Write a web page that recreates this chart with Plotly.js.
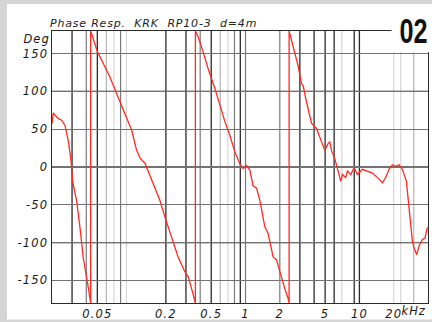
<!DOCTYPE html>
<html>
<head>
<meta charset="utf-8">
<script src="https://cdn.plot.ly/plotly-3.0.1.min.js"></script>
<style>
  html, body { margin: 0; padding: 0; background: #d5d5d5; }
  #chart { width: 432px; height: 322px; }
  .xtick text, .ytick text { letter-spacing: 1.2px; }
  g.annotation[data-index="0"] text { letter-spacing: 0.8px; }
  g.annotation[data-index="1"] text, g.annotation[data-index="2"] text { letter-spacing: 1px; }
  g.annotation[data-index="3"] text { transform-box: fill-box; transform-origin: center; transform: scaleX(0.72); }
</style>
</head>
<body>
<div id="chart"></div>
<script>
// Frequency in kHz and phase in degrees (wraps at ±180)
const freqKHz = [
  0.0200, 0.0205, 0.0227, 0.0243, 0.0260, 0.0278, 0.0288, 0.0294, 0.0304, 0.0329,
  0.0352, 0.0376, 0.0408, 0.0431, 0.0437, 0.0437,
  0.0461, 0.0503, 0.0564, 0.0645, 0.0739, 0.0844, 0.100, 0.1107, 0.1183, 0.1309,
  0.160, 0.177, 0.196, 0.224, 0.256, 0.294, 0.314, 0.336, 0.359, 0.363, 0.363,
  0.384, 0.425, 0.470, 0.538, 0.595, 0.659, 0.728, 0.806, 0.892, 0.953,
  1.021, 1.091, 1.166, 1.249, 1.335, 1.477, 1.579, 1.747, 1.871, 2.070,
  2.213, 2.366, 2.414, 2.414,
  2.618, 2.895, 3.100, 3.202, 3.430, 3.794, 4.198, 4.643, 4.963, 5.306,
  5.492, 5.683, 6.076, 6.626, 6.857, 7.096, 7.584, 7.850, 8.391, 8.972,
  9.611, 10.63, 11.76, 13.01, 14.86, 15.92, 17.01, 18.19, 19.48, 20.82,
  22.26, 23.84, 25.85, 27.24, 28.19, 29.17, 30.14, 31.83, 33.34, 35.71,
  37.64, 39.50
];
const phaseDeg = [
  57.5, 71.5, 64, 62, 55, 35, 18, 8, -19, -45,
  -80, -120, -151, -175, -180, 180,
  170, 152, 137, 119, 97, 75, 49, 22, 12, 5,
  -26, -44, -66, -92, -119, -139, -145, -161, -178, -180, 180,
  172, 152, 130, 104, 82, 60, 42, 20, 4, -2,
  2, -4, -25, -28, -44, -79, -88, -119, -123, -147,
  -161, -174, -180, 180,
  161, 134, 110, 108, 86, 58, 51, 33, 22, 31,
  33, 22, 11, -10, -19, -10, -14, -5, -10, -1,
  -10, -3, -5, -8, -16, -21, -14, -3, 3, 1,
  3, -3, -19, -54, -80, -98, -107, -116, -105, -96,
  -94, -80
];

// Axis ticks
const xTickVals = [0.05, 0.2, 0.5, 1, 2, 5, 10, 20];
const xTickText = ['0.05', '0.2', '0.5', '1', '2', '5', '10', '20'];
const yTickVals = [-150, -100, -50, 0, 50, 100, 150];
const yTickText = ['-150', '-100', '-50', '0', '50', '100', '150'];

// Vertical grid lines (kHz), grouped by shade as they appear in the reference
const gridBlack = [0.03, 0.05, 0.2, 0.3, 0.5, 0.9, 3, 4, 5, 6, 9, 10];
const gridDark = [0.04, 0.08, 0.4, 0.8, 1, 2];
const gridGray = [0.06, 0.6, 30];
const gridLight = [0.07, 0.09, 0.7, 7, 20, 23];
const gridStrongY = [-100, 100];

const shapes = [];
// white panel
shapes.push({type: 'rect', xref: 'paper', yref: 'paper', x0: -0.1197, x1: 1.02, y0: -0.0607, y1: 1.0993,
  fillcolor: '#ffffff', line: {width: 0}, layer: 'below'});
function vline(f, color, w) {
  shapes.push({type: 'line', xref: 'x', yref: 'paper', x0: f, x1: f, y0: 0, y1: 1,
    line: {color: color, width: w}, layer: 'below'});
}
gridLight.forEach(f => vline(f, '#d6d6d6', 1.2));
gridGray.forEach(f => vline(f, '#b4b4b4', 1.2));
gridDark.forEach(f => vline(f, '#7a7a7a', 1.2));
gridBlack.forEach(f => vline(f, '#2a2a2a', 1.3));
gridStrongY.forEach(v => shapes.push({type: 'line', xref: 'paper', yref: 'y', x0: 0, x1: 1, y0: v, y1: v,
  line: {color: '#222222', width: 1.3}, layer: 'below'}));
// "02" box
shapes.push({type: 'rect', xref: 'paper', yref: 'paper', x0: 0.903, x1: 1.02, y0: 0.922, y1: 1.0993,
  fillcolor: '#ffffff', line: {width: 0}, layer: 'above'});

const tickFont = {family: 'DejaVu Sans', size: 11.5, style: 'italic', color: '#1a1a1a'};

const layout = {
  width: 432, height: 322,
  margin: {l: 52, r: 4, t: 31, b: 19, pad: 0},
  paper_bgcolor: '#d5d5d5',
  plot_bgcolor: 'rgba(0,0,0,0)',
  showlegend: false,
  xaxis: {
    type: 'log',
    range: [Math.log10(0.02), Math.log10(40)],
    tickmode: 'array', tickvals: xTickVals, ticktext: xTickText,
    showgrid: false, zeroline: false, ticks: '',
    showline: true, mirror: true, linecolor: '#2a2a2a', linewidth: 1.3,
    tickfont: tickFont
  },
  yaxis: {
    range: [-180, 180],
    tickmode: 'array', tickvals: yTickVals, ticktext: yTickText,
    showgrid: true, gridcolor: '#727272', gridwidth: 1.2,
    zeroline: false, ticks: '',
    showline: true, mirror: true, linecolor: '#2a2a2a', linewidth: 1.3,
    tickfont: tickFont
  },
  shapes: shapes,
  annotations: [
    {text: 'Phase Resp.  KRK  RP10-3  d=4m', xref: 'paper', yref: 'paper', x: 0.022, y: 1.029,
     xanchor: 'left', yanchor: 'middle', showarrow: false,
     font: {family: 'DejaVu Sans', size: 11, style: 'italic', color: '#222'}},
    {text: 'Deg', xref: 'paper', yref: 'paper', x: -0.006, y: 0.9706,
     xanchor: 'right', yanchor: 'middle', showarrow: false,
     font: {family: 'DejaVu Sans', size: 11.5, style: 'italic', color: '#1a1a1a'}},
    {text: 'kHz', xref: 'paper', yref: 'paper', x: 0.929, y: -0.03,
     xanchor: 'left', yanchor: 'middle', showarrow: false,
     font: {family: 'DejaVu Sans', size: 11.5, style: 'italic', color: '#1a1a1a'}},
    {text: '02', xref: 'paper', yref: 'paper', x: 0.9614, y: 1.0007,
     xanchor: 'center', yanchor: 'middle', showarrow: false,
     font: {family: 'Liberation Sans', size: 35, weight: 'bold', color: '#111'}}
  ]
};

const traces = [{
  x: freqKHz, y: phaseDeg, type: 'scatter', mode: 'lines',
  line: {color: '#ff2a20', width: 1.3}, hoverinfo: 'skip'
}];

Plotly.newPlot('chart', traces, layout, {staticPlot: true, displayModeBar: false});
</script>
</body>
</html>
